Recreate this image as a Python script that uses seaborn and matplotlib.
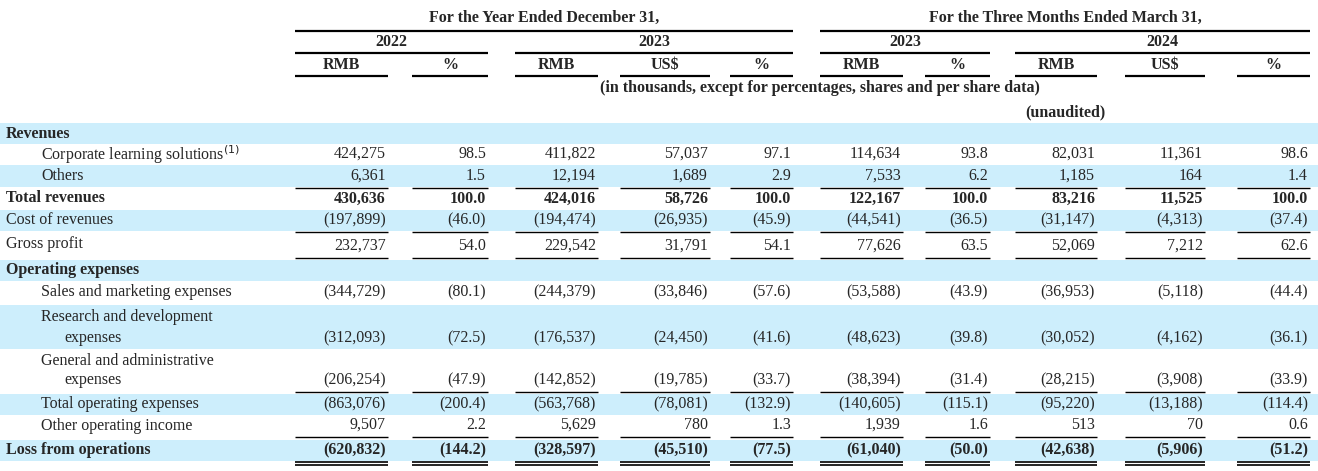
import matplotlib
matplotlib.use('Agg')
import matplotlib.pyplot as plt
import seaborn as sns

sns.set_theme(style='white')
plt.rcParams['font.family'] = ['Liberation Serif', 'DejaVu Serif']

# ---- data ----
row_labels = ['Revenues', 'Corporate learning solutions$^{(1)}$', 'Others', 'Total revenues',
              'Cost of revenues', 'Gross profit', 'Operating expenses',
              'Sales and marketing expenses', 'Research and development\nexpenses',
              'General and administrative\nexpenses', 'Total operating expenses',
              'Other operating income', 'Loss from operations']
row_bold = [True, False, False, True, False, False, True, False, False, False, False, False, True]
row_indent = [False, True, True, False, False, False, False, True, True, True, True, True, False]
row_shaded = [True, False, True, False, True, False, True, False, True, False, True, False, True]
row_line_below = [0, 0, 1, 0, 1, 1, 0, 0, 0, 1, 0, 1, 2]

col_heads = ['RMB', '%', 'RMB', 'US$', '%', 'RMB', '%', 'RMB', 'US$', '%']
values = [
    [''] * 10,
    ['424,275', '98.5', '411,822', '57,037', '97.1', '114,634', '93.8', '82,031', '11,361', '98.6'],
    ['6,361', '1.5', '12,194', '1,689', '2.9', '7,533', '6.2', '1,185', '164', '1.4'],
    ['430,636', '100.0', '424,016', '58,726', '100.0', '122,167', '100.0', '83,216', '11,525', '100.0'],
    ['(197,899)', '(46.0)', '(194,474)', '(26,935)', '(45.9)', '(44,541)', '(36.5)', '(31,147)', '(4,313)', '(37.4)'],
    ['232,737', '54.0', '229,542', '31,791', '54.1', '77,626', '63.5', '52,069', '7,212', '62.6'],
    [''] * 10,
    ['(344,729)', '(80.1)', '(244,379)', '(33,846)', '(57.6)', '(53,588)', '(43.9)', '(36,953)', '(5,118)', '(44.4)'],
    ['(312,093)', '(72.5)', '(176,537)', '(24,450)', '(41.6)', '(48,623)', '(39.8)', '(30,052)', '(4,162)', '(36.1)'],
    ['(206,254)', '(47.9)', '(142,852)', '(19,785)', '(33.7)', '(38,394)', '(31.4)', '(28,215)', '(3,908)', '(33.9)'],
    ['(863,076)', '(200.4)', '(563,768)', '(78,081)', '(132.9)', '(140,605)', '(115.1)', '(95,220)', '(13,188)', '(114.4)'],
    ['9,507', '2.2', '5,629', '780', '1.3', '1,939', '1.6', '513', '70', '0.6'],
    ['(620,832)', '(144.2)', '(328,597)', '(45,510)', '(77.5)', '(61,040)', '(50.0)', '(42,638)', '(5,906)', '(51.2)'],
]

# ---- layout (pixels) ----
col_left = [295, 412, 515, 620, 730, 820, 925, 1015, 1125, 1237]
col_right = [388, 488, 598, 710, 793, 903, 990, 1097, 1205, 1310]
row_top = [123, 144, 165, 187, 210, 232, 260, 281, 305, 349, 394, 415, 440]
row_bot = [144, 165, 187, 210, 231, 257, 281, 303, 349, 391, 415, 436, 461]
FS = 11.5

fig = plt.figure(figsize=(13.18, 4.71), dpi=100)
ax = fig.add_axes([0, 0, 1, 1])
ax.set_xlim(0, 1318)
ax.set_ylim(471, 0)
ax.axis('off')

def hline(x0, x1, y, lw=1.6):
    ax.plot([x0, x1], [y, y], color='black', lw=lw, solid_capstyle='butt')

# headers
ax.text(544, 18, 'For the Year Ended December 31,', ha='center', va='center', fontsize=FS, weight='bold')
ax.text(1065, 18, 'For the Three Months Ended March 31,', ha='center', va='center', fontsize=FS, weight='bold')
hline(295, 793, 31)
hline(820, 1310, 31)
for txt, a, b in [('2022', 0, 1), ('2023', 2, 4), ('2023', 5, 6), ('2024', 7, 9)]:
    ax.text((col_left[a] + col_right[b]) / 2, 42, txt, ha='center', va='center', fontsize=FS, weight='bold')
    hline(col_left[a], col_right[b], 53)
for i, h in enumerate(col_heads):
    ax.text((col_left[i] + col_right[i]) / 2, 65, h, ha='center', va='center', fontsize=FS, weight='bold')
    hline(col_left[i], col_right[i], 76)
ax.text(820, 88, '(in thousands, except for percentages, shares and per share data)',
        ha='center', va='center', fontsize=FS, weight='bold')
ax.text(1065, 112, '(unaudited)', ha='center', va='center', fontsize=FS, weight='bold')

# rows
for r, lab in enumerate(row_labels):
    top, bot = row_top[r], row_bot[r]
    if row_shaded[r]:
        ax.fill_between([0, 1318], top, bot, color='#cdeefc', lw=0)
    w = 'bold' if row_bold[r] else 'normal'
    x = 41 if row_indent[r] else 6
    if '\n' in lab:
        l1, l2 = lab.split('\n')
        ax.text(x, top + 12, l1, ha='left', va='center', fontsize=FS, weight=w)
        ax.text(x + 23, bot - 11, l2, ha='left', va='center', fontsize=FS, weight=w)
    else:
        ax.text(x, (top + bot) / 2, lab, ha='left', va='center', fontsize=FS, weight=w)
    for c, v in enumerate(values[r]):
        if v:
            ax.text(col_right[c] - 2, bot - 11, v, ha='right', va='center', fontsize=FS, weight=w)
    if row_line_below[r] == 1:
        for c in range(10):
            hline(col_left[c], col_right[c], bot + 1, lw=1.0)
    elif row_line_below[r] == 2:
        for c in range(10):
            hline(col_left[c], col_right[c], bot + 0.5, lw=1.2)
            hline(col_left[c], col_right[c], bot + 3.5, lw=1.2)

fig.savefig('out.png', dpi=100)
